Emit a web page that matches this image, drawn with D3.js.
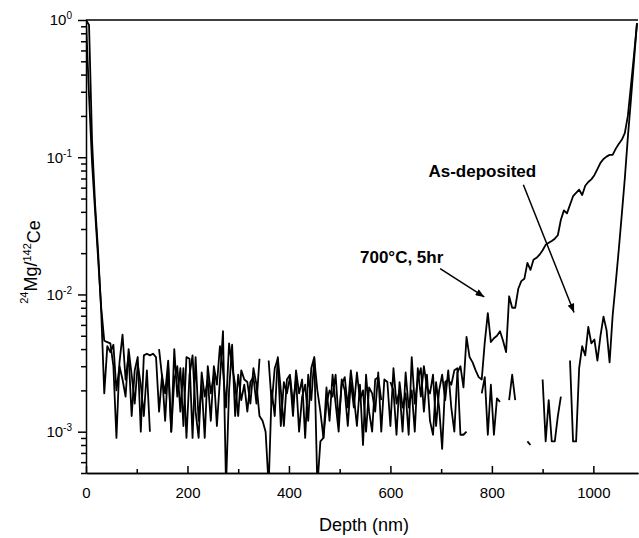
<!DOCTYPE html>
<html>
<head>
<meta charset="utf-8">
<script src="https://d3js.org/d3.v7.min.js"></script>
<style>
body { margin: 0; background: #fff; }
svg { font-family: "Liberation Sans", Arial, sans-serif; }
.axis path, .axis line { stroke: #000; stroke-width: 1.5; }
.axis text { fill: #000; }
</style>
</head>
<body>
<svg width="639" height="538"></svg>
<script>

// sampling depth (nm)
var depthNm = [0,6,12,18,24,30,36,42,48,54,60,66,72,78,84,90,96,102,108,114,120,126,132,138,144,150,156,162,168,174,
  180,186,192,198,204,210,216,222,228,234,240,246,252,258,264,270,276,282,288,294,300,306,312,318,324,330,336,342,348,354,
  360,366,372,378,384,390,396,402,408,414,420,426,432,438,444,450,456,462,468,474,480,486,492,498,504,510,516,522,528,534,
  540,546,552,558,564,570,576,582,588,594,600,606,612,618,624,630,636,642,648,654,660,666,672,678,684,690,696,702,708,714,
  720,726,732,738,744,750,756,762,768,774,780,786,792,798,804,810,816,822,828,834,840,846,852,858,864,870,876,882,888,894,
  900,906,912,918,924,930,936,942,948,954,960,966,972,978,984,990,996,1002,1008,1014,1020,1026,1032,1038,1044,1050,1056,1062,1068,1074,
  1080,1086];

// 24Mg/142Ce ratio, as-deposited film (null = no counts)
var asDeposited = [1.0,0.28,0.09,0.04,0.018,0.008,4.6e-3,4.5e-3,4.4e-3,3.0e-3,
  0.9e-3,3.2e-3,5.1e-3,2.4e-3,3.6e-3,1.3e-3,2.8e-3,3.5e-3,1.0e-3,3.6e-3,
  3.7e-3,3.6e-3,3.7e-3,3.5e-3,1.4e-3,2.6e-3,1.2e-3,3.0e-3,1.0e-3,4.0e-3,
  1.8e-3,2.9e-3,1.1e-3,3.5e-3,3.4e-3,0.9e-3,3.5e-3,1.2e-3,2.2e-3,0.9e-3,
  3.0e-3,1.9e-3,2.6e-3,1.1e-3,2.4e-3,5.4e-3,0.4e-3,2.0e-3,4.3e-3,1.3e-3,
  2.6e-3,1.7e-3,2.2e-3,1.4e-3,2.3e-3,2.5e-3,1.6e-3,3.4e-3,null,null,
  3.3e-3,1.6e-3,2.9e-3,3.4e-3,1.1e-3,2.3e-3,1.9e-3,2.5e-3,1.3e-3,2.8e-3,
  1.9e-3,2.4e-3,0.9e-3,2.6e-3,1.7e-3,3.4e-3,2.0e-3,1.4e-3,0.9e-3,1.6e-3,
  2.0e-3,1.8e-3,2.6e-3,1.2e-3,2.2e-3,2.5e-3,1.5e-3,2.8e-3,1.8e-3,1.1e-3,
  2.2e-3,0.8e-3,2.6e-3,1.4e-3,1.0e-3,2.4e-3,2.5e-3,1.7e-3,null,null,
  2.3e-3,2.0e-3,0.95e-3,2.3e-3,1.5e-3,1.9e-3,0.95e-3,3.5e-3,1.6e-3,2.4e-3,
  2.9e-3,1.4e-3,2.6e-3,1.2e-3,0.95e-3,2.3e-3,1.5e-3,0.75e-3,2.3e-3,2.4e-3,
  2.2e-3,2.8e-3,2.9e-3,0.95e-3,0.95e-3,1.0e-3,null,null,null,null,
  1.9e-3,2.5e-3,0.95e-3,2.2e-3,0.95e-3,1.75e-3,1.65e-3,null,null,1.7e-3,
  2.6e-3,1.7e-3,null,null,null,0.85e-3,0.8e-3,null,null,null,
  2.4e-3,0.85e-3,1.7e-3,0.85e-3,0.85e-3,1.3e-3,1.8e-3,null,null,3.3e-3,
  0.85e-3,0.85e-3,2.9e-3,4.2e-3,3.6e-3,5.8e-3,4.4e-3,4.7e-3,3.3e-3,5.0e-3,
  6.9e-3,5.5e-3,3.2e-3,7.0e-3,0.012,0.021,0.038,0.07,0.14,0.26,
  0.5,0.95];

// 24Mg/142Ce ratio, after 700 C for 5 hr
var annealed700 = [1.0,0.92,0.13,0.045,0.02,0.0075,1.9e-3,4.2e-3,3.8e-3,4.3e-3,
  2.0e-3,3.0e-3,2.4e-3,1.8e-3,4.0e-3,2.6e-3,1.6e-3,3.1e-3,2.2e-3,1.3e-3,
  2.8e-3,1.0e-3,null,null,4.0e-3,2.5e-3,1.9e-3,3.3e-3,1.0e-3,2.4e-3,
  3.0e-3,1.4e-3,2.9e-3,0.9e-3,2.6e-3,3.6e-3,1.4e-3,0.9e-3,2.7e-3,1.8e-3,
  2.4e-3,1.2e-3,3.0e-3,2.2e-3,4.2e-3,2.8e-3,1.5e-3,4.4e-3,3.0e-3,2.2e-3,
  1.3e-3,2.8e-3,2.4e-3,2.3e-3,1.6e-3,2.9e-3,2.2e-3,1.3e-3,1.2e-3,1.0e-3,
  0.4e-3,2.0e-3,1.3e-3,3.5e-3,2.0e-3,1.1e-3,2.4e-3,2.6e-3,1.6e-3,2.4e-3,
  1.0e-3,1.8e-3,2.2e-3,1.2e-3,2.9e-3,3.5e-3,0.4e-3,0.85e-3,0.9e-3,2.1e-3,
  1.2e-3,2.6e-3,1.6e-3,1.0e-3,2.4e-3,2.0e-3,1.1e-3,2.3e-3,1.5e-3,2.7e-3,
  1.7e-3,2.0e-3,1.0e-3,2.1e-3,1.9e-3,1.4e-3,2.7e-3,1.0e-3,2.4e-3,2.3e-3,
  1.1e-3,2.9e-3,1.6e-3,2.0e-3,1.0e-3,2.7e-3,1.5e-3,2.0e-3,1.0e-3,2.9e-3,
  1.8e-3,3.0e-3,2.1e-3,1.9e-3,2.6e-3,1.1e-3,2.0e-3,2.6e-3,1.7e-3,2.8e-3,
  1.5e-3,1.0e-3,2.7e-3,3.0e-3,2.1e-3,4.9e-3,3.5e-3,3.2e-3,2.8e-3,2.5e-3,
  2.4e-3,4.5e-3,7.3e-3,4.5e-3,4.8e-3,5.0e-3,5.4e-3,4.6e-3,3.8e-3,9.7e-3,
  8.0e-3,8.0e-3,0.011,0.0125,0.013,0.017,0.0151,0.0179,0.0185,0.0195,
  0.021,0.023,0.0238,0.0245,0.0255,0.027,0.035,0.041,0.039,0.045,
  0.052,0.055,0.058,0.053,0.062,0.066,0.069,0.074,0.082,0.091,
  0.097,0.101,0.104,0.104,0.115,0.125,0.134,0.15,0.2,0.33,
  0.55,0.95];

var xMajor = [0, 200, 400, 600, 800, 1000];
var xMinor = [100, 300, 500, 700, 900];
var yDecades = [1e-3, 1e-2, 1e-1, 1];
var yExponents = ["-3", "-2", "-1", "0"];

var svg = d3.select("svg"),
    margin = {top: 20, right: 1, bottom: 65, left: 86},
    width = +svg.attr("width"),
    height = +svg.attr("height");

var x = d3.scaleLinear()
    .domain([0, 1088])
    .range([margin.left, width - margin.right]);

var y = d3.scaleLog()
    .domain([5e-4, 1])
    .range([height - margin.bottom, margin.top]);

svg.append("clipPath").attr("id", "plot")
  .append("rect")
    .attr("x", x.range()[0]).attr("y", y.range()[1] - 2)
    .attr("width", x.range()[1] - x.range()[0])
    .attr("height", y.range()[0] - y.range()[1] + 2);

var line = d3.line()
    .defined(function(d) { return d[1] != null; })
    .x(function(d) { return x(d[0]); })
    .y(function(d) { return y(d[1]); });

[asDeposited, annealed700].forEach(function(s) {
  svg.append("path")
    .datum(depthNm.map(function(d, i) { return [d, s[i]]; }))
    .attr("clip-path", "url(#plot)")
    .attr("fill", "none")
    .attr("stroke", "#000")
    .attr("stroke-width", 1.8)
    .attr("stroke-linejoin", "round")
    .attr("d", line);
});

// x axis, ticks pointing inward
svg.append("g")
    .attr("class", "axis")
    .attr("transform", "translate(0," + y.range()[0] + ")")
    .call(d3.axisBottom(x).tickValues(xMinor).tickSize(-4).tickFormat("").tickSizeOuter(0));

svg.append("g")
    .attr("class", "axis")
    .attr("transform", "translate(0," + y.range()[0] + ")")
    .style("font-size", "15px")
    .call(d3.axisBottom(x).tickValues(xMajor).tickFormat(d3.format("d"))
      .tickSize(-7).tickSizeOuter(0).tickPadding(14));

// y axis, ticks pointing outward
var yAxis = svg.append("g")
    .attr("class", "axis")
    .attr("transform", "translate(" + x.range()[0] + ",0)")
    .call(d3.axisLeft(y).tickValues(y.ticks()).tickSize(5).tickFormat("").tickSizeOuter(0));

yAxis.selectAll(".tick line")
    .attr("x2", function(d) { return yDecades.indexOf(d) >= 0 ? -8 : -5; });

var yLab = svg.append("g").style("font-size", "15px");
yDecades.forEach(function(v, i) {
  var t = yLab.append("text")
      .attr("x", x.range()[0] - 14)
      .attr("y", y(v))
      .attr("dy", "0.36em")
      .attr("text-anchor", "end");
  t.append("tspan").text("10");
  t.append("tspan").attr("dy", "-0.6em").style("font-size", "10px").text(yExponents[i]);
});

// top frame line
svg.append("line")
    .attr("x1", x.range()[0]).attr("x2", x.range()[1])
    .attr("y1", y.range()[1]).attr("y2", y.range()[1])
    .attr("stroke", "#000").attr("stroke-width", 1.5);

// axis titles
svg.append("text")
    .attr("x", (x.range()[0] + x.range()[1]) / 2 + 2)
    .attr("y", 531)
    .attr("text-anchor", "middle")
    .style("font-size", "18px")
    .text("Depth (nm)");

var yt = svg.append("text")
    .attr("transform", "translate(33,262) rotate(-90)")
    .attr("text-anchor", "middle")
    .style("font-size", "18px");
yt.append("tspan").attr("dy", "-0.5em").style("font-size", "11px").text("24");
yt.append("tspan").attr("dy", "0.5em").text("Mg/");
yt.append("tspan").attr("dy", "-0.5em").style("font-size", "11px").text("142");
yt.append("tspan").attr("dy", "0.5em").text("Ce");

// annotations
svg.append("defs").append("marker")
    .attr("id", "arrow")
    .attr("viewBox", "0 0 10 8")
    .attr("refX", 10).attr("refY", 4)
    .attr("markerUnits", "userSpaceOnUse")
    .attr("markerWidth", 9).attr("markerHeight", 7)
    .attr("orient", "auto")
  .append("path")
    .attr("d", "M0,0L10,4L0,8z")
    .attr("fill", "#000");

svg.append("text")
    .attr("x", x(675)).attr("y", y(0.072))
    .style("font-size", "17px").style("font-weight", "bold")
    .text("As-deposited");

svg.append("line")
    .attr("x1", x(862)).attr("y1", y(0.063))
    .attr("x2", x(962)).attr("y2", y(0.0074))
    .attr("stroke", "#000").attr("stroke-width", 1.5)
    .attr("marker-end", "url(#arrow)");

svg.append("text")
    .attr("x", x(540)).attr("y", y(0.017))
    .style("font-size", "17px").style("font-weight", "bold")
    .text("700°C, 5hr");

svg.append("line")
    .attr("x1", x(698)).attr("y1", y(0.0154))
    .attr("x2", x(785)).attr("y2", y(0.0096))
    .attr("stroke", "#000").attr("stroke-width", 1.5)
    .attr("marker-end", "url(#arrow)");

</script>
</body>
</html>
